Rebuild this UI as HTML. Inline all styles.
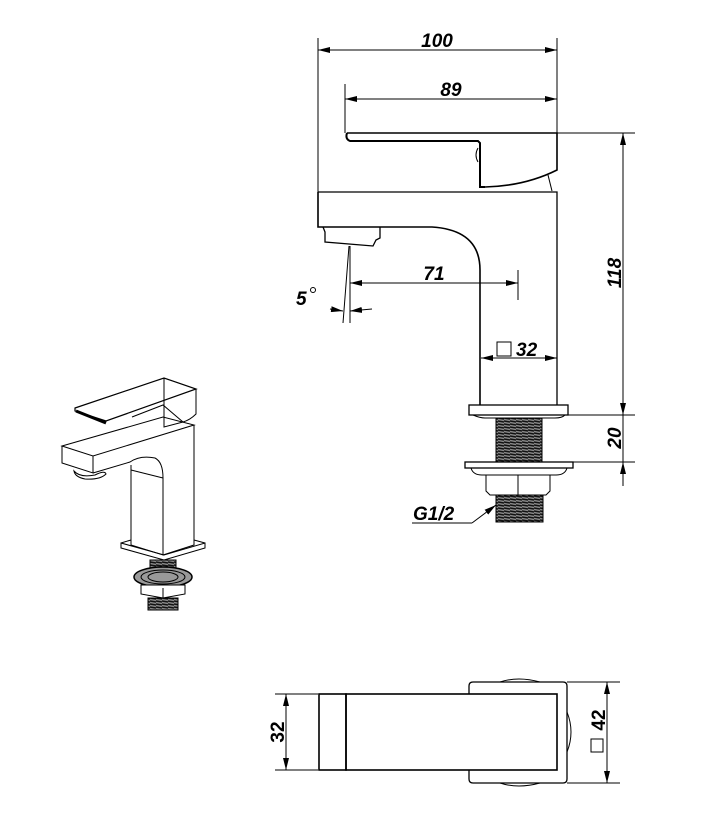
<!DOCTYPE html>
<html><head><meta charset="utf-8"><style>
html,body{margin:0;padding:0;background:#fff;}
svg{display:block;}
text{font-family:"Liberation Sans",Arial,sans-serif;font-weight:bold;font-style:italic;fill:#000;}
</style></head><body>
<svg width="705" height="827" viewBox="0 0 705 827" xmlns="http://www.w3.org/2000/svg">
<defs>
<marker id="a" viewBox="0 0 12 6" refX="12" refY="3" markerWidth="12" markerHeight="6" orient="auto-start-reverse" markerUnits="userSpaceOnUse"><path d="M0,0L12,3L0,6z" fill="#000"/></marker>
<pattern id="th" width="6" height="3" patternUnits="userSpaceOnUse"><rect width="6" height="3" fill="#888"/><line x1="0" y1="1" x2="6" y2="2" stroke="#111" stroke-width="1.4"/></pattern>
</defs>
<g stroke="#000" fill="none" stroke-width="1">
<line x1="318" y1="38" x2="318" y2="192"/>
<line x1="557" y1="38" x2="557" y2="133"/>
<line x1="318" y1="50" x2="557" y2="50" marker-start="url(#a)" marker-end="url(#a)"/>
<line x1="345" y1="84" x2="345" y2="133"/>
<line x1="345" y1="99" x2="557" y2="99" marker-start="url(#a)" marker-end="url(#a)"/>
<line x1="557" y1="133" x2="635" y2="133"/>
<path d="M347,133 L557,133 L557,170 Q525,186 485,187" stroke-width="1.6"/>
<path d="M347,133 Q345,139 350,141 L478,141 L480,143 L480,187 L485,187" stroke-width="2"/>
<path d="M478,148 Q474,155 478,162"/>
<line x1="548" y1="175" x2="552" y2="191"/>
<path d="M318,192 L557,192 L557,405" stroke-width="1.3"/>
<path d="M318,192 L318,227 L432,227 Q480,230 480,270 L480,405" stroke-width="1.6"/>
<path d="M323,227 L325,232 L325,242 L373,246 L376,240 L380,238 L380,227" stroke-width="1.3"/>
<line x1="349" y1="246" x2="343" y2="323"/>
<line x1="350" y1="246" x2="350" y2="323"/>
<line x1="330" y1="309" x2="343" y2="311" marker-end="url(#a)"/>
<line x1="372" y1="309" x2="350" y2="311" marker-end="url(#a)"/>
<line x1="350" y1="283" x2="518" y2="283" marker-start="url(#a)" marker-end="url(#a)"/>
<line x1="518" y1="270" x2="518" y2="300"/>
<line x1="481" y1="358" x2="557" y2="358" marker-start="url(#a)" marker-end="url(#a)"/>
<rect x="497" y="342" width="14" height="14"/>
<rect x="469" y="405" width="99" height="10" stroke-width="1.3"/>
<path d="M473,415 Q480,418 485,418 L555,418 Q562,418 565,415"/>
<rect x="496" y="418" width="46" height="44" fill="url(#th)"/>
<rect x="465" y="462" width="108" height="6" stroke-width="1.3"/>
<path d="M471,468 Q473,475 482,475 L556,475 Q565,475 567,468"/>
<path d="M486,475 L550,475 L550,491 L546,495 L490,495 L486,491 Z"/>
<line x1="518" y1="475" x2="518" y2="495"/>
<rect x="496" y="495" width="47" height="27" fill="url(#th)"/>
<line x1="412" y1="523" x2="472" y2="523"/>
<line x1="472" y1="523" x2="496" y2="505" marker-end="url(#a)"/>
<line x1="623" y1="133" x2="623" y2="415" marker-start="url(#a)" marker-end="url(#a)"/>
<line x1="568" y1="415" x2="635" y2="415"/>
<line x1="573" y1="462" x2="635" y2="462"/>
<line x1="623" y1="415" x2="623" y2="486"/>
<line x1="623" y1="478" x2="623" y2="462" marker-end="url(#a)"/>
<line x1="275" y1="694" x2="318" y2="694"/>
<line x1="275" y1="770" x2="318" y2="770"/>
<line x1="286" y1="694" x2="286" y2="770" marker-start="url(#a)" marker-end="url(#a)"/>
<path d="M469,694 L469,686 Q469,682 473,682 L563,682 Q567,682 567,686 L567,779 Q567,783 563,783 L473,783 Q469,783 469,779 L469,770" stroke-width="1.3"/>
<path d="M500,682 Q518,676 540,682"/>
<path d="M500,783 Q518,789 540,783"/>
<path d="M567,712 Q575,732 567,752"/>
<rect x="319" y="694" width="27" height="76" stroke-width="1.6"/>
<rect x="346" y="694" width="211" height="76" stroke-width="1.6"/>
<line x1="567" y1="682" x2="620" y2="682"/>
<line x1="567" y1="783" x2="620" y2="783"/>
<line x1="607" y1="682" x2="607" y2="783" marker-start="url(#a)" marker-end="url(#a)"/>
<rect x="591" y="739" width="12" height="13"/>
<path d="M75,408 L164,378 L196,389 L106,421 L75,411 Z" stroke-width="1.2"/>
<path d="M76,411 L106,423" stroke-width="3"/>
<path d="M196,389 L196,414 Q190,420 183,422 L164,427 L164,378"/>
<path d="M132,417 L163,405 L183,422"/>
<path d="M62,446 L163,417 L194,425 L93,456 Z"/>
<path d="M62,446 L62,463 L93,473 L93,456"/>
<path d="M93,473 L130,462 Q140,455 155,458 Q163,462 163,478 L163,555 L131,545 L131,465"/>
<path d="M163,555 L194,545 L194,425"/>
<path d="M131,470 L163,478"/>
<path d="M74,471 Q80,478 95,475 Q105,470 106,474 Q100,480 85,479 Q75,477 74,471 Z"/>
<path d="M121,543 L164,555 L205,543 L205,548 L164,560 L121,548 Z"/>
<path d="M121,543 L131,540 M194,540 L205,543"/>
<rect x="150" y="560" width="26" height="16" fill="url(#th)"/>
<ellipse cx="163" cy="577" rx="29" ry="10" fill="#999" stroke-width="1.5"/>
<ellipse cx="163" cy="577" rx="22" ry="7"/>
<ellipse cx="163" cy="577" rx="15" ry="5"/>
<path d="M141,585 L185,585 L185,594 L163,598 L141,594 Z" fill="#fff"/>
<line x1="163" y1="588" x2="163" y2="598"/>
<rect x="148" y="598" width="30" height="12" fill="url(#th)"/>
</g>
<text x="437" y="47" font-size="19" text-anchor="middle">100</text>
<text x="451" y="96" font-size="19" text-anchor="middle">89</text>
<text x="434" y="280" font-size="19" text-anchor="middle">71</text>
<text x="296" y="305" font-size="19">5</text>
<circle cx="313" cy="290" r="2.5" fill="none" stroke="#000"/>
<text x="516" y="356" font-size="19">32</text>
<text x="413" y="520" font-size="19">G1/2</text>
<text transform="translate(621,273) rotate(-90)" font-size="19" text-anchor="middle">118</text>
<text transform="translate(621,438) rotate(-90)" font-size="19" text-anchor="middle">20</text>
<text transform="translate(284,732) rotate(-90)" font-size="19" text-anchor="middle" style="font-style:normal">32</text>
<text transform="translate(605,720) rotate(-90)" font-size="19" text-anchor="middle" style="font-style:normal">42</text>
</svg>
</body></html>
